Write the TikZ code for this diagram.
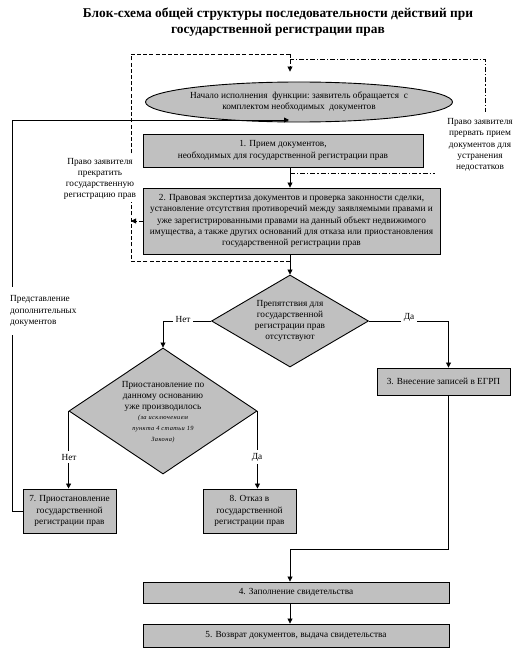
\documentclass[tikz,border=0pt]{standalone}
\usepackage{fontspec}
\setmainfont{Liberation Serif}
\usetikzlibrary{shapes.geometric,arrows.meta}
\definecolor{boxgray}{RGB}{192,192,192}
\newcommand{\smallit}{\fontsize{6.4}{8.5}\selectfont\itshape\addfontfeatures{LetterSpace=6}}
\tikzset{
  txt/.style={font=\fontsize{9.3}{11.2}\selectfont, align=center, inner sep=1pt},
  box/.style={draw, fill=boxgray, line width=0.9pt, inner sep=0pt, txt},
  shp/.style={draw, fill=boxgray, line width=0.9pt, inner sep=0pt},
  conn/.style={line width=0.8pt},
  arr/.style={conn, -{Triangle[length=5pt,width=5pt]}},
  dsh/.style={line width=0.8pt, dash pattern=on 4pt off 2.2pt},
  ddot/.style={line width=0.8pt, dash pattern=on 5pt off 2pt on 1.2pt off 2pt},
  lbl/.style={txt, fill=white},
}
\begin{document}
\begin{tikzpicture}[x=1pt,y=-1pt]
\useasboundingbox (0,0) rectangle (525,658);
% title
\node[font=\bfseries\fontsize{13.4}{16}\selectfont, align=center] (title) at (278,22)
  {Блок-схема общей структуры последовательности действий при\\государственной регистрации прав};
% shapes
\node[shp, ellipse, minimum width=307pt, minimum height=40pt] (start) at (299,102) {};
\node[txt] (starttext) at (start.center) {Начало исполнения\ \ функции:\ заявитель\ обращается\ \ с\\комплектом необходимых\ \ документов};
\node[box, minimum width=280pt, minimum height=33pt] (b1) at (283,150.5)
  {1. Прием документов,\\необходимых для государственной регистрации прав};
\node[box, minimum width=297pt, minimum height=66pt] (b2) at (291.5,221)
  {2. Правовая экспертиза документов и проверка законности сделки,\\установление отсутствия противоречий между заявляемыми правами и\\уже зарегистрированными правами на данный объект недвижимого\\имущества, а также других оснований для отказа или приостановления\\государственной регистрации прав};
\node[shp, diamond, minimum width=157pt, minimum height=92pt] (d1) at (290,321) {};
\node[txt] (d1text) at (d1.center) {Препятствия для\\государственной\\регистрации прав\\отсутствуют};
\node[shp, diamond, minimum width=188pt, minimum height=126pt] (d2) at (163,411) {};
\node[txt] (d2text) at (163,412) {Приостановление по\\данному основанию\\уже производилось\\[-1.5pt]{\smallit(за исключением}\\{\smallit пункта 4 статьи 19}\\{\smallit Закона)}};
\node[box, minimum width=133pt, minimum height=27pt] (b3) at (443.5,381.5) {3. Внесение записей в ЕГРП};
\node[box, minimum width=93pt, minimum height=44pt] (b7) at (69.5,511)
  {7. Приостановление\\государственной\\регистрации прав};
\node[box, minimum width=93pt, minimum height=44pt] (b8) at (249.5,511)
  {8. Отказ в\\государственной\\регистрации прав};
\node[box, minimum width=306pt, minimum height=21pt] (b4) at (296,592.5) {4. Заполнение свидетельства};
\node[box, minimum width=306pt, minimum height=23pt] (b5) at (296,635.5) {5. Возврат документов, выдача свидетельства};
% helper coordinates
\coordinate (dB) at (290,261);
\coordinate (dTL) at (131,54);
\coordinate (dtop) at (290,54);
\coordinate (dD) at (290,173);
\coordinate (dRT) at (485,59);
\coordinate (dM) at (290,59);
\coordinate (lft) at (12,120);
\coordinate (in1) at (289,120);
\coordinate (j4) at (290,549);
% connectors
\draw[arr] (b1.south -| d1.north) -- (b2.north -| d1.north);
\draw[arr] (b2.south -| d1.north) -- (d1.north);
\draw[arr] (d1.west) -| (d2.north);
\draw[arr] (d1.east) -| ([xshift=5pt]b3.north);
\draw[arr] (d2.west) -- (d2.west |- b7.north);
\draw[arr] (d2.east) -- (d2.east |- b8.north);
\draw[arr] ([xshift=5pt]b3.south) |- (j4) -- (j4 |- b4.north);
\draw[arr] (j4 |- b4.south) -- (j4 |- b5.north);
\draw[arr] (b7.west) -| (lft) -- (in1);
\draw[dsh] (dB) -| (dTL) -- (dtop);
\draw[dsh, -{Triangle[length=5pt,width=5pt]}, shorten >=10pt] (dtop) -- (dtop |- start.north);
\draw[dsh, -{Triangle[length=5pt,width=5pt]}] (b2.west) -- (b2.west -| dTL);
\draw[ddot] (dD) -| (dRT) -- (dM);
% labels
\node[lbl, inner sep=2pt] (l1) at (100,179) {Право заявителя\\прекратить\\государственную\\регистрацию прав};
\node[lbl, minimum width=90pt, minimum height=66pt] (l2) at (480,145) {Право заявителя\\прервать прием\\документов для\\устранения\\недостатков};
\node[lbl, align=left, anchor=west, inner sep=1pt, minimum height=48pt] (l3) at (9,311) {Представление\\дополнительных\\документов};
\node[lbl, inner sep=3pt] (no1) at (183,319) {Нет};
\node[lbl, inner sep=3pt] (yes1) at (409,317) {Да};
\node[lbl, inner sep=3pt] (no2) at (69,457) {Нет};
\node[lbl, inner sep=3pt] (yes2) at (257,457) {Да};
\end{tikzpicture}
\end{document}
